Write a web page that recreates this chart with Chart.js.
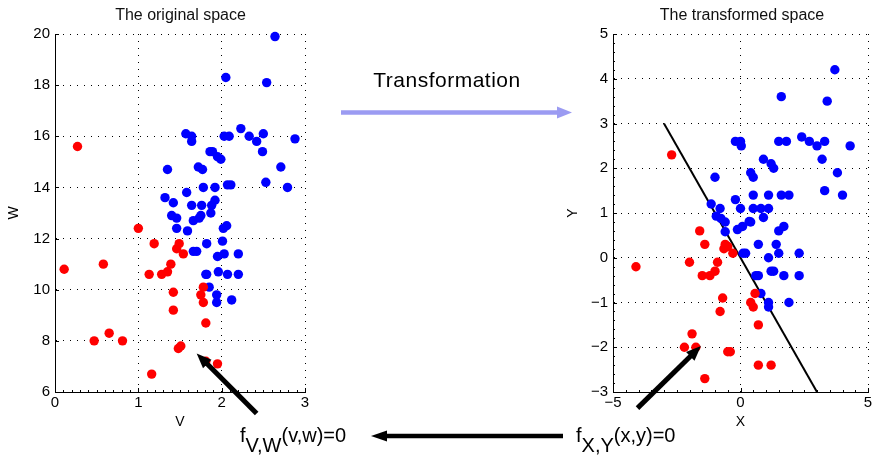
<!DOCTYPE html>
<html>
<head>
<meta charset="utf-8">
<script src="https://cdn.jsdelivr.net/npm/chart.js@4.4.1/dist/chart.umd.min.js"></script>
<style>
  body { margin: 0; background: #fff; width: 875px; height: 455px; position: relative; overflow: hidden;
         font-family: "Liberation Sans", Arial, sans-serif; color: #000; }
  canvas { position: absolute; top: 0; }
  #left { left: 0; }
  #right { left: 440px; }
  #overlay { left: 0; pointer-events: none; }
  .txt { position: absolute; white-space: nowrap; }
  .title { font-size: 16px; line-height: 16px; top: 6.5px; transform: translateX(-50%); color: #111; }
  .big { font-size: 21px; line-height: 21px; letter-spacing: 0.5px; }
  .fn { font-size: 20px; line-height: 20px; top: 425px; }
  .fn span { position: relative; top: 10px; }
</style>
</head>
<body>
<canvas id="left" width="440" height="455"></canvas>
<canvas id="right" width="435" height="455"></canvas>
<canvas id="overlay" width="875" height="455"></canvas>

<div class="txt title" style="left:180.5px">The original space</div>
<div class="txt title" style="left:742px">The transformed space</div>
<div class="txt big" style="left:447px; top:69px; transform:translateX(-50%)">Transformation</div>
<div class="txt fn" style="left:240px">f<span>V,W</span>(v,w)=0</div>
<div class="txt fn" style="left:576px">f<span>X,Y</span>(x,y)=0</div>

<script>
// ---- original space (V, W) ----
const leftRedV = [0.27, 1.00, 1.19, 1.49, 1.46, 1.54, 0.11, 0.58, 1.13, 1.28, 1.35, 1.39, 1.42,
                  1.42, 1.78, 1.75, 1.78, 1.81, 0.47, 0.65, 0.81, 1.48, 1.51, 1.81, 1.95, 1.16];
const leftRedW = [15.6, 12.4, 11.8, 11.8, 11.6, 11.4, 10.8, 11.0, 10.6, 10.6, 10.7, 11.0, 9.9,
                  9.2, 10.1, 9.8, 9.5, 8.7, 8.0, 8.3, 8.0, 7.7, 7.8, 7.2, 7.1, 6.7];

const leftBlueV = [2.64, 2.05, 2.54, 2.23, 2.50, 2.33, 2.42, 2.88, 2.03, 2.09, 1.57, 1.64, 1.64,
                   1.86, 1.89, 1.95, 1.99, 2.49, 2.71, 1.35, 1.72, 1.77, 2.53, 2.79, 2.07, 2.11,
                   1.78, 1.92, 1.58, 1.32, 1.42, 1.64, 1.76, 1.92, 1.88, 1.87, 1.40, 1.46, 1.66,
                   1.73, 1.75, 1.46, 1.59, 2.02, 2.06, 1.82, 2.01, 1.66, 1.70, 1.95, 2.03, 2.20,
                   1.81, 1.82, 1.96, 2.07, 2.20, 1.85, 1.94, 1.94, 2.12];
const leftBlueW = [19.9, 18.3, 18.1, 16.3, 16.1, 16.0, 15.8, 15.9, 16.0, 16.0, 16.1, 16.0, 15.8,
                   15.4, 15.4, 15.2, 15.1, 15.4, 14.8, 14.7, 14.8, 14.7, 14.2, 14.0, 14.1, 14.1,
                   14.0, 14.0, 13.8, 13.6, 13.4, 13.3, 13.3, 13.5, 13.3, 13.0, 12.9, 12.8, 12.7,
                   12.8, 12.9, 12.4, 12.3, 12.4, 12.5, 11.8, 11.9, 11.5, 11.5, 11.3, 11.4, 11.4,
                   10.6, 10.6, 10.7, 10.6, 10.6, 10.1, 9.8, 9.5, 9.6];

// ---- transformed space (X, Y) ----
const rightRedX = [-2.7, -1.6, -1.4, -4.1, -2.0, -0.9, -1.5, -1.2, -1.0, -0.6, -0.5, -0.65, -0.3, -0.7,
                   -0.8, 0.57, 0.4, 0.5, 0.7, -1.9, -2.2, -1.75, -0.5, -0.4, 0.7, 1.2, -1.4];
const rightRedY = [2.3, 0.6, 0.3, -0.2, -0.1, -0.1, -0.4, -0.4, -0.3, 0.3, 0.25, 0.2, 0.1, -0.9,
                   -1.2, -0.8, -1.0, -1.1, -1.5, -1.7, -2.0, -2.0, -2.1, -2.1, -2.4, -2.4, -2.7];

const rightBlueX = [3.7, 1.6, 3.4, 2.4, 2.7, 3.0, 3.3, 3.2, 4.3, 1.5, 1.8, -0.2, 0.0, 0.03, 0.9, 1.2,
                    1.3, 3.8, 3.3, 4.0, 1.6, 1.9, 0.4, 0.5, 0.5, 1.1, -1.0, -0.2, -1.15, -0.8, 0.0,
                    0.5, 0.8, 1.1, -0.95, -0.77, -0.6, 0.9, 0.34, 0.4, 0.08, -0.12, -0.6, 1.5, 1.7,
                    0.7, 1.4, 1.5, 1.1, 2.3, 0.1, 0.2, 1.2, 1.3, 0.6, 0.7, 1.7, 2.3, 0.8, 1.1, 1.1, 1.9];
const rightBlueY = [4.2, 3.6, 3.5, 2.7, 2.6, 2.5, 2.6, 2.2, 2.5, 2.6, 2.6, 2.6, 2.6, 2.5, 2.2, 2.1,
                    2.0, 1.9, 1.5, 1.4, 1.4, 1.4, 1.9, 1.8, 1.4, 1.4, 1.8, 1.3, 1.2, 1.1, 1.1,
                    1.1, 1.1, 1.1, 0.93, 0.88, 0.8, 0.9, 0.81, 0.8, 0.7, 0.63, 0.58, 0.6, 0.7,
                    0.3, 0.3, 0.1, 0.0, 0.1, 0.1, 0.1, -0.3, -0.3, -0.4, -0.4, -0.4, -0.4, -0.8, -1.0, -1.1, -1.0];

// decision line f_XY(x,y)=0
const boundaryX = [-3, 3];
const boundaryY = [3, -3];

// tick labels
const leftXTicks = [0, 1, 2, 3];
const leftYTicks = [6, 8, 10, 12, 14, 16, 18, 20];
const rightXTicks = [-5, 0, 5];
const rightYTicks = [-3, -2, -1, 0, 1, 2, 3, 4, 5];

const FONT = '"Liberation Sans", Arial, sans-serif';

function pts(xs, ys) {
  return xs.map((x, i) => ({ x: x, y: ys[i] }));
}

// inward major + minor ticks, matlab style
const innerTicks = {
  id: 'innerTicks',
  beforeDatasetsDraw(chart, args, opts) {
    const { ctx, chartArea: a, scales: { x, y } } = chart;
    ctx.save();
    ctx.strokeStyle = '#000';
    ctx.lineWidth = 1;
    ctx.beginPath();
    x.ticks.forEach(t => {
      const px = Math.round(x.getPixelForValue(t.value)) + 0.5;
      ctx.moveTo(px, a.bottom); ctx.lineTo(px, a.bottom - 4);
    });
    y.ticks.forEach(t => {
      const py = Math.round(y.getPixelForValue(t.value)) + 0.5;
      ctx.moveTo(a.left, py); ctx.lineTo(a.left + 4, py);
    });
    if (opts.minorX) {
      for (let v = x.min; v <= x.max + 1e-9; v += opts.minorX) {
        const px = Math.round(x.getPixelForValue(v)) + 0.5;
        ctx.moveTo(px, a.bottom); ctx.lineTo(px, a.bottom - 2);
      }
    }
    if (opts.minorY) {
      for (let v = y.min; v <= y.max + 1e-9; v += opts.minorY) {
        const py = Math.round(y.getPixelForValue(v)) + 0.5;
        ctx.moveTo(a.left, py); ctx.lineTo(a.left + 2, py);
      }
    }
    ctx.stroke();
    ctx.restore();
  }
};

function axis(min, max, ticks, title, isX, titlePad, size) {
  return {
    type: 'linear',
    min: min,
    max: max,
    afterBuildTicks: s => { s.ticks = ticks.map(v => ({ value: v })); },
    afterFit: s => { if (isX) s.height = size; else s.width = size; },
    grid: { color: '#000', lineWidth: 1, drawTicks: false },
    border: { display: true, color: '#000', width: 1, dash: [1, 6] },
    ticks: {
      color: '#000',
      padding: isX ? 2 : 5,
      font: { family: FONT, size: 15 },
      callback: v => String(v).replace('-', '\u2212')
    },
    title: {
      display: true,
      text: title,
      color: '#000',
      font: { family: FONT, size: 14 },
      padding: isX ? { top: 0, bottom: 0 } : { top: titlePad, bottom: 0 }
    }
  };
}

function scatterSet(data, color) {
  return {
    type: 'scatter',
    data: data,
    backgroundColor: color,
    pointRadius: 4.7,
    pointBorderWidth: 0,
    clip: false
  };
}

const leftChart = new Chart(document.getElementById('left'), {
  type: 'scatter',
  data: {
    datasets: [
      scatterSet(pts(leftRedV, leftRedW), '#ff0000'),
      scatterSet(pts(leftBlueV, leftBlueW), '#0000ff')
    ]
  },
  options: {
    responsive: false,
    devicePixelRatio: 1,
    animation: false,
    events: [],
    layout: { padding: { top: 34, left: 0, right: 135, bottom: 24 } },
    scales: {
      x: axis(0, 3, leftXTicks, 'V', true, 0, 39),
      y: axis(6, 20, leftYTicks, 'W', false, 6, 55)
    },
    plugins: { legend: { display: false }, tooltip: { enabled: false }, innerTicks: { minorX: 0.1 } }
  },
  plugins: [innerTicks]
});

const rightChart = new Chart(document.getElementById('right'), {
  type: 'scatter',
  data: {
    datasets: [
      scatterSet(pts(rightRedX, rightRedY), '#ff0000'),
      scatterSet(pts(rightBlueX, rightBlueY), '#0000ff'),
      {
        type: 'line',
        data: pts(boundaryX, boundaryY),
        borderColor: '#000',
        borderWidth: 2,
        pointRadius: 0,
        fill: false
      }
    ]
  },
  options: {
    responsive: false,
    devicePixelRatio: 1,
    animation: false,
    events: [],
    layout: { padding: { top: 34, left: 120, right: 7, bottom: 24 } },
    scales: {
      x: axis(-5, 5, rightXTicks, 'X', true, 0, 39),
      y: axis(-3, 5, rightYTicks, 'Y', false, 5, 53)
    },
    plugins: { legend: { display: false }, tooltip: { enabled: false }, innerTicks: { minorX: 0.5, minorY: 0.2 } }
  },
  plugins: [innerTicks]
});

// ---- annotation arrows on the overlay ----
const ov = document.getElementById('overlay').getContext('2d');

function arrow(x1, y1, x2, y2, color, width, headLen, headHalf) {
  const dx = x2 - x1, dy = y2 - y1;
  const len = Math.hypot(dx, dy);
  const ux = dx / len, uy = dy / len;
  const bx = x2 - ux * headLen, by = y2 - uy * headLen;
  ov.save();
  ov.strokeStyle = color;
  ov.fillStyle = color;
  ov.lineWidth = width;
  ov.beginPath();
  ov.moveTo(x1, y1);
  ov.lineTo(bx + ux * 1, by + uy * 1);
  ov.stroke();
  ov.beginPath();
  ov.moveTo(x2, y2);
  ov.lineTo(bx - uy * headHalf, by + ux * headHalf);
  ov.lineTo(bx + uy * headHalf, by - ux * headHalf);
  ov.closePath();
  ov.fill();
  ov.restore();
}

// data coords -> page pixels
function pagePos(chart, offsetX, vx, vy) {
  return [offsetX + chart.scales.x.getPixelForValue(vx), chart.scales.y.getPixelForValue(vy)];
}

// Transformation arrow
arrow(341, 112.5, 572, 112.5, '#9b9bf2', 4.5, 15, 6);
// back arrow between the two implicit functions
arrow(563, 436, 371, 436, '#000', 4.5, 16, 5.5);
// f_VW pointer into the original space
const l0 = pagePos(leftChart, 0, 2.42, 5.16), l1 = pagePos(leftChart, 0, 1.70, 7.51);
arrow(l0[0], l0[1], l1[0], l1[1], '#000', 5, 15, 6);
// f_XY pointer into the transformed space
const r0 = pagePos(rightChart, 440, -4.04, -3.36), r1 = pagePos(rightChart, 440, -1.55, -1.97);
arrow(r0[0], r0[1], r1[0], r1[1], '#000', 5, 15, 6);
</script>
</body>
</html>
